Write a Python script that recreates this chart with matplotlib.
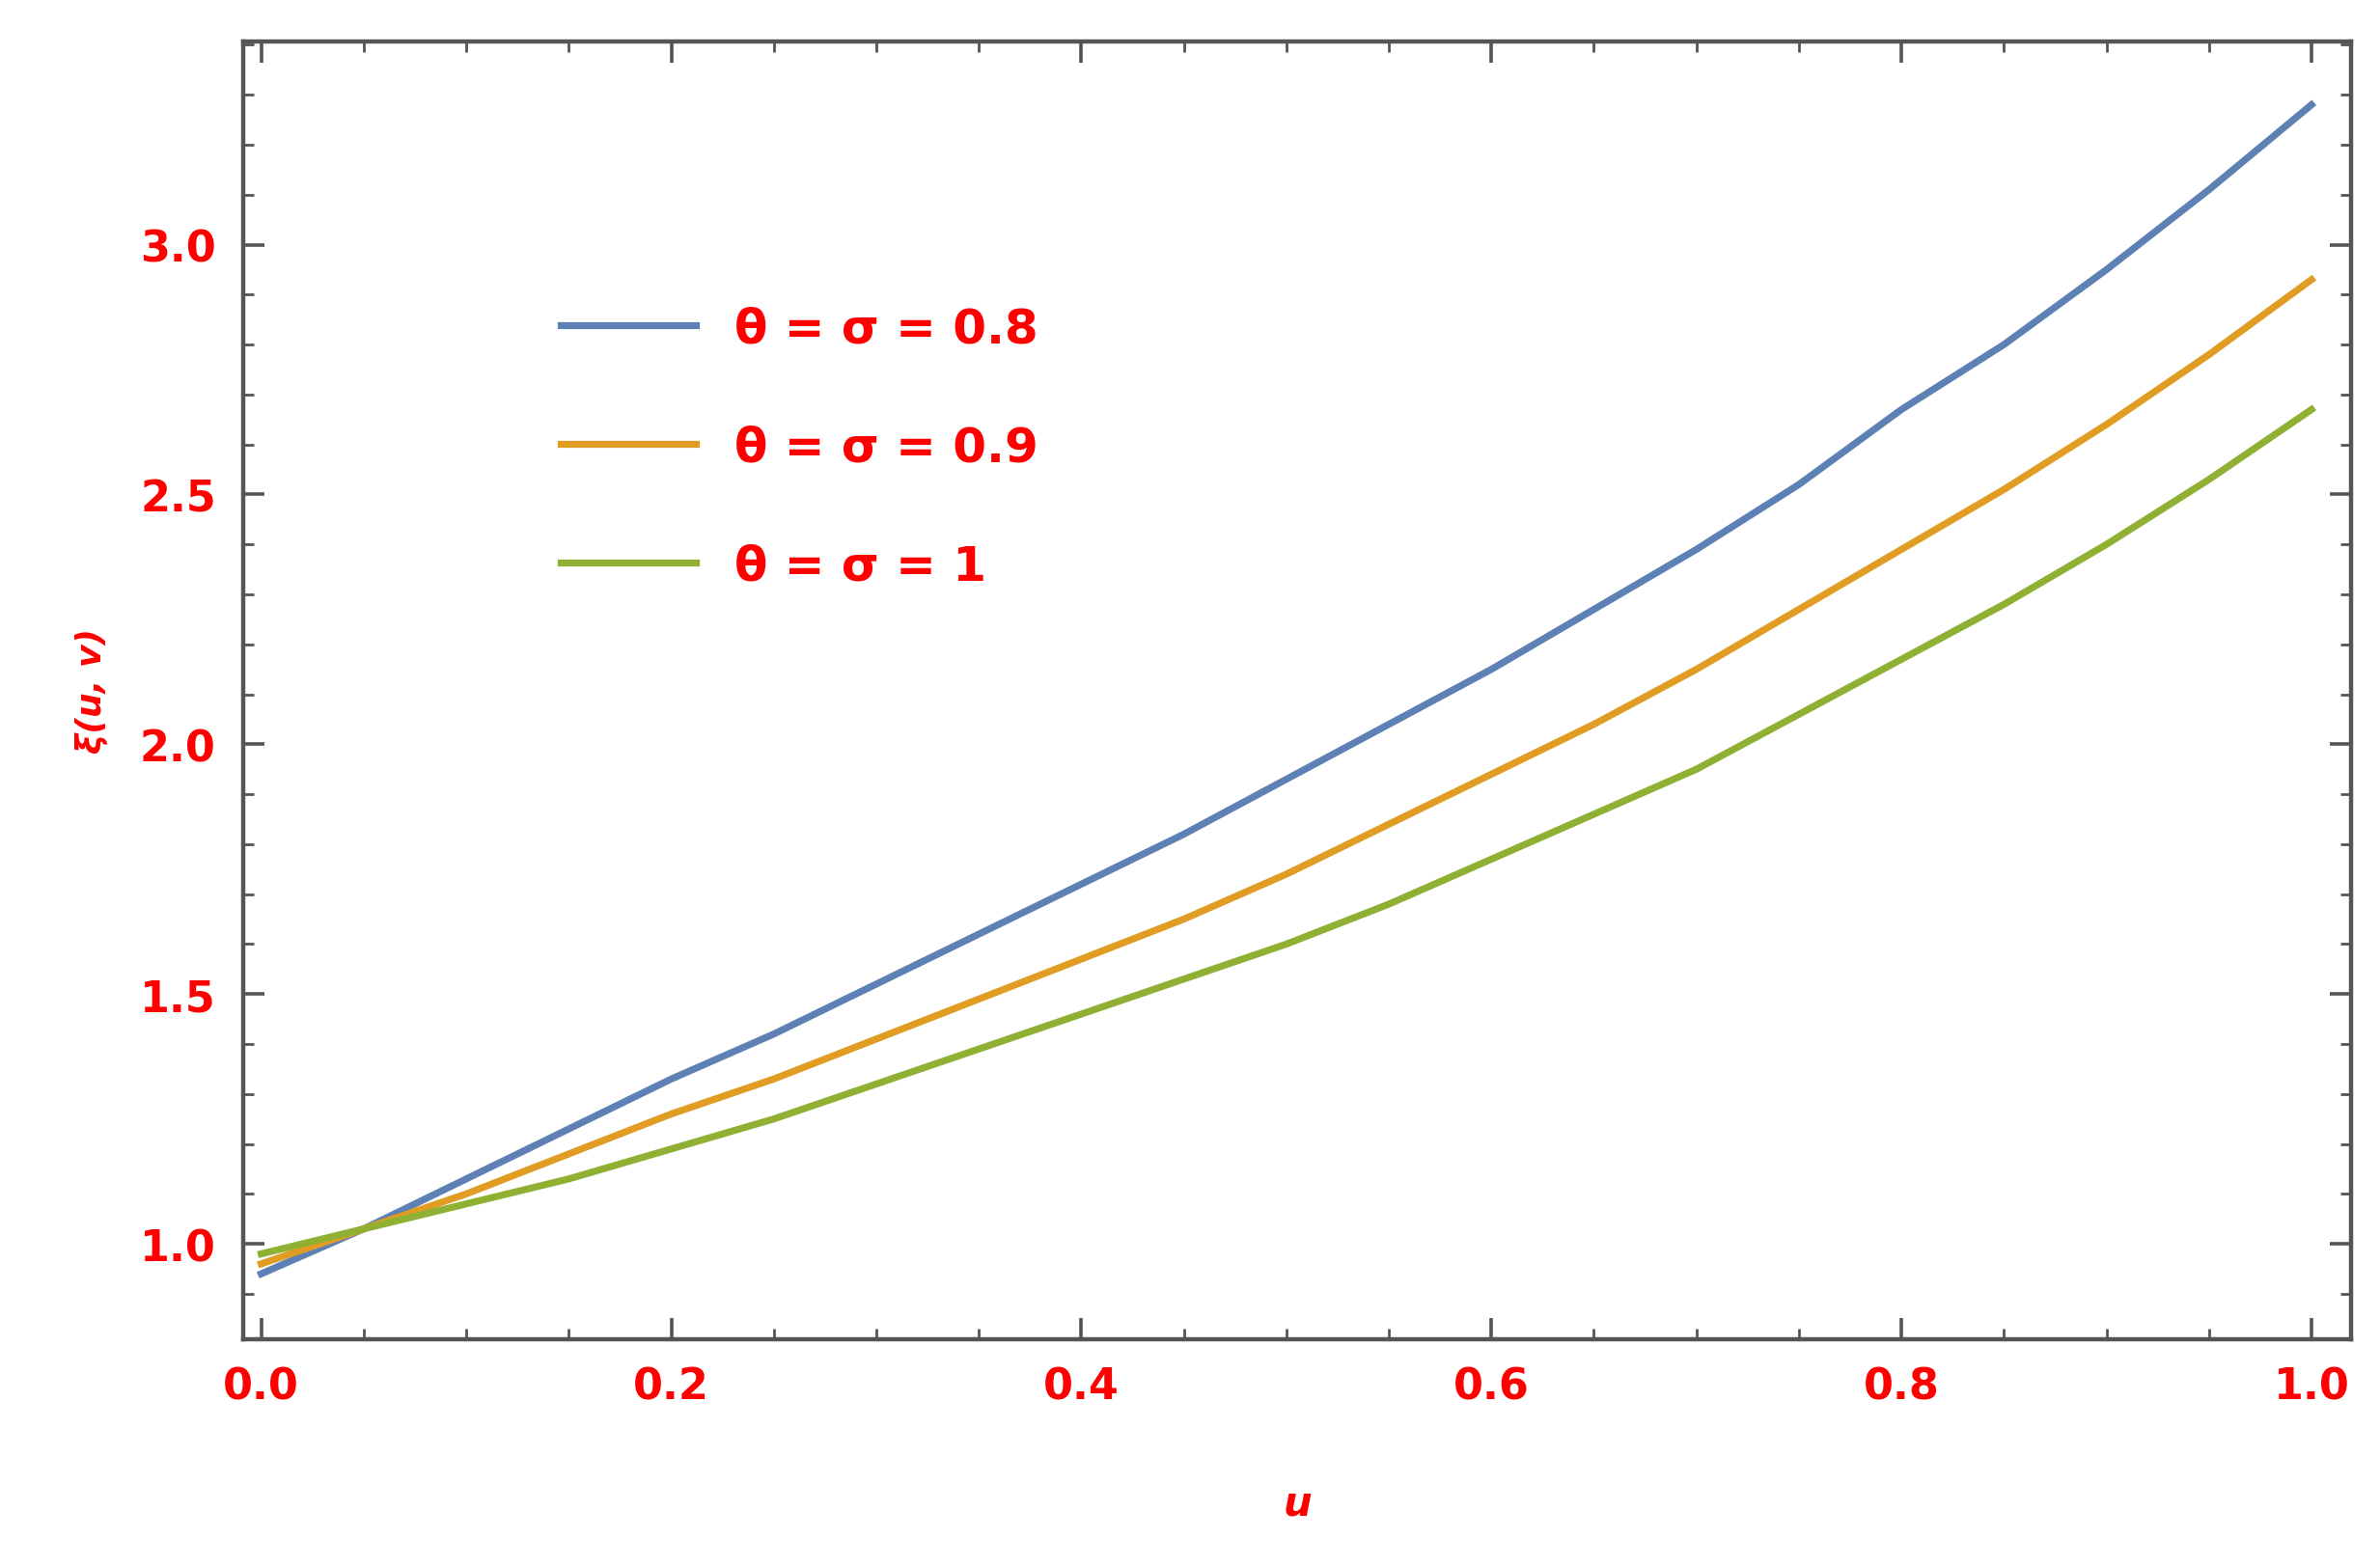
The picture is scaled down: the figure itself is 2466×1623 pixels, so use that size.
import matplotlib
matplotlib.use("Agg")
import matplotlib.pyplot as plt
from matplotlib.ticker import MultipleLocator, FormatStrFormatter

u = [0.0, 0.05, 0.1, 0.15, 0.2, 0.25, 0.3, 0.35, 0.4, 0.45, 0.5,
     0.55, 0.6, 0.65, 0.7, 0.75, 0.8, 0.85, 0.9, 0.95, 1.0]
xi_08 = [0.94, 1.03, 1.13, 1.23, 1.33, 1.42, 1.52, 1.62, 1.72, 1.82, 1.93,
         2.04, 2.15, 2.27, 2.39, 2.52, 2.67, 2.80, 2.95, 3.11, 3.28]
xi_09 = [0.96, 1.03, 1.10, 1.18, 1.26, 1.33, 1.41, 1.49, 1.57, 1.65, 1.74,
         1.84, 1.94, 2.04, 2.15, 2.27, 2.39, 2.51, 2.64, 2.78, 2.93]
xi_10 = [0.98, 1.03, 1.08, 1.13, 1.19, 1.25, 1.32, 1.39, 1.46, 1.53, 1.60,
         1.68, 1.77, 1.86, 1.95, 2.06, 2.17, 2.28, 2.40, 2.53, 2.67]
labels = ["θ = σ = 0.8", "θ = σ = 0.9", "θ = σ = 1"]
colors = ["#5E81B5", "#E19C24", "#8FB032"]

fig = plt.figure(figsize=(12.33, 8.12), dpi=200)
ax = fig.add_axes([0.102, 0.145, 0.886, 0.828])

for ys, lab, c in zip([xi_08, xi_09, xi_10], labels, colors):
    ax.plot(u, ys, color=c, lw=2.6, label=lab)

ax.set_xlim(-0.009, 1.0195)
ax.set_ylim(0.81, 3.407)
ax.xaxis.set_major_locator(MultipleLocator(0.2))
ax.xaxis.set_minor_locator(MultipleLocator(0.05))
ax.yaxis.set_major_locator(MultipleLocator(0.5))
ax.yaxis.set_minor_locator(MultipleLocator(0.1))
ax.xaxis.set_major_formatter(FormatStrFormatter("%.1f"))
ax.yaxis.set_major_formatter(FormatStrFormatter("%.1f"))
ax.tick_params(which="both", direction="in", top=True, right=True, color="#555555")
ax.tick_params(which="major", length=8, width=1.3, labelsize=16, labelcolor="red", pad=10)
ax.tick_params(which="minor", length=4, width=1.0)
for lbl in ax.get_xticklabels() + ax.get_yticklabels():
    lbl.set_fontweight("bold")
for s in ax.spines.values():
    s.set_color("#555555")
    s.set_linewidth(1.6)

ax.set_xlabel("u", color="red", fontsize=15, style="italic", fontweight="bold", labelpad=28)
ax.set_ylabel("ξ(u, v)", color="red", fontsize=13, style="italic", fontweight="bold", labelpad=12)

leg = ax.legend(loc="upper left", bbox_to_anchor=(0.13, 0.83), frameon=False,
                handlelength=2.8, labelspacing=1.5, prop={"size": 18, "weight": "bold"})
for t in leg.get_texts():
    t.set_color("red")

fig.savefig("out.png")
